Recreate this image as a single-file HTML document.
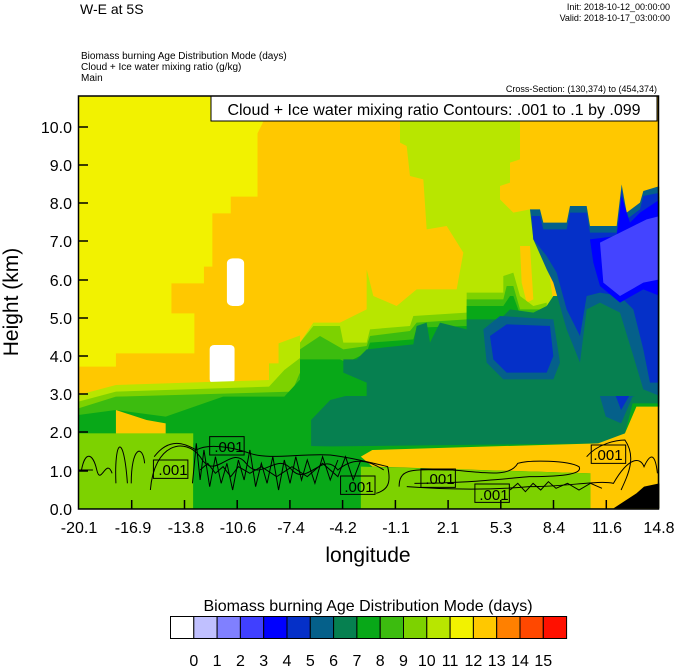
<!DOCTYPE html>
<html><head><meta charset="utf-8"><style>
html,body{margin:0;padding:0;background:#fff;}
svg{display:block;font-family:"Liberation Sans",sans-serif;}
</style></head><body>
<svg width="674" height="667" viewBox="0 0 674 667" xmlns="http://www.w3.org/2000/svg">
<defs><clipPath id="cr"><rect x="300" y="96" width="359" height="300"/></clipPath></defs>
<text x="80" y="14" font-size="14">W-E at 5S</text>
<text x="670" y="10" font-size="9" text-anchor="end">Init: 2018-10-12_00:00:00</text>
<text x="670" y="21" font-size="9" text-anchor="end">Valid: 2018-10-17_03:00:00</text>
<text x="81" y="59" font-size="10">Biomass burning Age Distribution Mode   (days)</text>
<text x="81" y="70" font-size="10">Cloud + Ice water mixing ratio   (g/kg)</text>
<text x="81" y="81" font-size="10">Main</text>
<text x="657" y="92" font-size="9" text-anchor="end">Cross-Section: (130,374) to (454,374)</text>
<g transform="translate(70,90) scale(0.38270,0.33333)">
<rect x="22" y="18" width="1516" height="1237" fill="#ffc800"/>
<polygon fill="#f2f200" points="22,18 505,18 505,95 490,130 490,320 420,320 420,370 372,370 372,530 350,530 350,580 265,580 265,670 325,670 325,790 120,790 120,830 22,830"/>
<rect x="410" y="505" width="45" height="143" rx="15" fill="#fff"/>
<rect x="365" y="765" width="65" height="115" rx="12" fill="#fff"/>
<polygon fill="#b8e600" points="22,915 120,885 250,880 520,870 520,820 545,820 545,760 640,720 730,720 800,700 770,540 850,530 850,600 1000,590 1030,560 1020,480 940,440 890,280 880,160 860,95 1190,95 1190,210 1130,210 1130,300 1200,370 1300,350 1350,400 1440,290 1540,290 1540,1255 22,1255"/>
<polygon fill="#7dd200" points="22,935 120,905 520,890 560,840 640,770 760,760 790,660 900,640 1040,610 1120,590 1200,580 1200,380 1300,365 1350,410 1440,300 1540,310 1540,1255 22,1255"/>
<polygon fill="#3cbc0f" points="22,955 120,920 580,905 600,850 680,810 760,800 780,700 900,680 1040,640 1140,600 1210,390 1300,372 1350,418 1440,305 1540,320 1540,1255 22,1255"/>
<polygon fill="#08a818" points="22,975 120,960 250,980 400,920 560,920 600,870 700,860 780,760 900,720 1040,665 1140,610 1215,400 1300,380 1350,425 1440,310 1540,330 1540,1255 22,1255"/>
<polygon fill="#068050" points="630,1070 630,990 680,930 780,900 780,760 900,730 1040,680 1140,620 1220,410 1300,390 1350,430 1440,320 1540,340 1540,940 1470,940 1450,1030 1400,1060"/>
<polygon fill="#05608a" points="1380,900 1540,880 1540,900 1470,920 1440,1000 1400,980"/>
<polygon fill="#0530c8" points="1420,900 1540,890 1470,900 1440,960"/>
<polygon fill="#ffc800" points="120,960 200,990 250,1000 250,1050 150,1050 120,1030"/>
<polygon fill="#ffc800" points="760,1100 790,1080 1080,1070 1380,1060 1450,1030 1480,950 1540,950 1540,1255 1360,1255 1360,1150 790,1130"/>
<rect x="22" y="1030" width="300" height="225" fill="#7dd200"/>
<polygon fill="#08a818" points="322,1060 700,1070 760,1100 760,1255 322,1255"/>
<polygon fill="#7dd200" points="760,1130 1360,1150 1360,1255 760,1255"/>
<polygon fill="#000" points="1420,1255 1480,1210 1500,1190 1540,1180 1540,1255"/>
</g>
<g clip-path="url(#cr)"><g transform="translate(300,96) scale(0.33333)">
<rect x="0" y="0" width="1080" height="900" fill="#ffc800"/>
<polygon fill="#b8e600" points="300,0 660,0 660,190 630,200 630,260 600,270 600,310 640,350 690,340 720,340 760,620 740,900 0,900 0,740 40,680 120,680 200,640 200,520 220,600 290,630 350,580 470,580 490,470 440,390 380,400 370,250 330,240 320,150 300,140"/>
<polygon fill="#ffc800" points="660,450 690,450 700,610 680,620 665,560"/>
<polygon fill="#7dd200" points="0,740 40,690 120,690 130,740 200,740 210,700 330,690 340,660 500,650 500,590 610,590 610,540 640,530 660,600 700,630 740,620 760,900 0,900"/>
<polygon fill="#3cbc0f" points="0,760 60,720 130,760 200,750 210,720 330,705 350,680 500,670 500,610 610,610 620,570 640,570 660,640 740,640 760,900 0,900"/>
<polygon fill="#08a818" points="0,790 120,790 140,800 200,770 210,740 340,730 350,695 500,690 500,630 610,630 630,600 640,600 660,655 740,650 760,900 0,900"/>
<polygon fill="#068050" points="130,830 130,790 170,790 200,760 340,745 350,690 380,680 390,740 420,680 500,700 500,670 600,670 630,640 700,650 740,630 760,600 1080,600 1080,900 200,900 200,860"/>
<polygon fill="#05608a" points="550,700 600,660 760,670 780,800 760,850 610,850 560,800"/>
<polygon fill="#0530c8" points="570,720 620,685 750,690 760,780 740,830 620,830 580,790"/>
<polygon fill="#05608a" points="690,340 720,340 730,380 800,380 810,330 860,330 870,390 950,390 965,265 980,350 1020,320 1030,285 1080,270 1080,900 1030,880 1000,780 960,650 900,620 860,640 840,800 800,700 760,560 740,520 700,430"/>
<polygon fill="#0530c8" points="695,360 720,360 730,400 800,400 810,350 860,350 870,410 950,410 965,280 980,370 1020,340 1030,300 1080,290 1080,860 1050,860 1030,760 1000,640 960,600 900,590 860,600 840,720 800,640 770,530 740,480 700,430"/>
<polygon fill="#0000ff" points="870,430 950,420 965,300 990,380 1020,350 1080,310 1080,600 1030,580 960,620 900,570 880,500"/>
<polygon fill="#4444ff" points="900,440 960,410 1000,390 1040,370 1080,360 1080,550 1030,560 960,600 910,560"/>
</g></g>
<g fill="none" stroke="#000" transform="translate(70,90) scale(0.38270,0.33333)">
<path vector-effect="non-scaling-stroke" d="M30,1140 C40,1080 60,1090 70,1140 C80,1190 95,1100 110,1150 M120,1180 C115,1050 140,1020 150,1180 M160,1180 C160,1070 190,1060 195,1120 M210,1200 C220,1060 300,1040 340,1100 C380,1180 420,1060 460,1120 C500,1180 540,1080 580,1140 C620,1190 660,1080 700,1140 C740,1100 780,1110 820,1140"/>
<path vector-effect="non-scaling-stroke" d="M220,1100 C260,1040 300,1060 330,1080 C360,1060 420,1070 470,1090 C520,1110 600,1090 680,1095 C720,1100 760,1110 830,1130 C840,1180 830,1200 800,1210 M860,1190 C860,1130 900,1140 1000,1140 C1100,1150 1150,1160 1170,1120 C1200,1110 1300,1110 1330,1130 C1340,1150 1300,1160 1200,1160 C1100,1170 1020,1180 900,1180"/>
<path vector-effect="non-scaling-stroke" d="M880,1190 C1000,1200 1100,1200 1200,1190 C1300,1190 1380,1170 1420,1180 C1460,1100 1490,1100 1500,1130 C1520,1080 1530,1100 1535,1150 M1350,1100 C1380,1060 1430,1050 1450,1050 C1480,1100 1460,1150 1440,1200"/>
<path vector-effect="non-scaling-stroke" d="M320,1180 L330,1060 L340,1170 L350,1080 L365,1190 L380,1100 L395,1180 L410,1120 L425,1200 L440,1110 L455,1170 L470,1080 L485,1190 L500,1120 L515,1180 L530,1100 L545,1200 L560,1110 L575,1180 L590,1100 L605,1170 L620,1110 L640,1180 L660,1100 L680,1170 L700,1110"/>
<path vector-effect="non-scaling-stroke" d="M340,1140 L360,1120 L380,1150 L400,1130 L420,1160 L440,1130 L470,1150 L500,1130 L540,1160 L580,1130 L620,1160 L660,1120 L700,1160 L720,1100 L740,1170 L760,1110"/>
<path vector-effect="non-scaling-stroke" d="M1150,1200 L1170,1180 L1190,1205 L1210,1180 L1230,1200 L1250,1175 L1270,1195 L1300,1180 L1330,1200 L1360,1180 L1390,1195"/>
<path vector-effect="non-scaling-stroke" d="M22,1140 L60,1140"/>
<rect vector-effect="non-scaling-stroke" x="218" y="1110" width="90" height="55"/>
<rect vector-effect="non-scaling-stroke" x="365" y="1040" width="90" height="55"/>
<rect vector-effect="non-scaling-stroke" x="707" y="1158" width="90" height="55"/>
<rect vector-effect="non-scaling-stroke" x="917" y="1137" width="90" height="55"/>
<rect vector-effect="non-scaling-stroke" x="1058" y="1182" width="90" height="55"/>
<rect vector-effect="non-scaling-stroke" x="1362" y="1065" width="90" height="55"/>
</g>
<g font-size="15" text-anchor="middle">
<text x="173" y="475">.001</text>
<text x="229" y="452">.001</text>
<text x="359" y="492">.001</text>
<text x="440" y="484">.001</text>
<text x="494" y="500">.001</text>
<text x="608" y="460">.001</text>
</g>
<rect x="211" y="96" width="446" height="25" fill="#fff" stroke="#000"/>
<text x="434" y="115" font-size="16" text-anchor="middle">Cloud + Ice water mixing ratio Contours: .001 to .1 by .099</text>
<rect x="78.5" y="96" width="580" height="413" fill="none" stroke="#000" stroke-width="1.5"/>
<g stroke="#000" stroke-width="1.5">
<line x1="79" y1="127" x2="88" y2="127"/><line x1="79" y1="165" x2="88" y2="165"/><line x1="79" y1="203" x2="88" y2="203"/><line x1="79" y1="241" x2="88" y2="241"/><line x1="79" y1="280" x2="88" y2="280"/><line x1="79" y1="318" x2="88" y2="318"/><line x1="79" y1="356" x2="88" y2="356"/><line x1="79" y1="394" x2="88" y2="394"/><line x1="79" y1="432" x2="88" y2="432"/><line x1="79" y1="471" x2="88" y2="471"/>
<line x1="131.7" y1="509" x2="131.7" y2="500"/><line x1="184.5" y1="509" x2="184.5" y2="500"/><line x1="237.2" y1="509" x2="237.2" y2="500"/><line x1="289.9" y1="509" x2="289.9" y2="500"/><line x1="342.6" y1="509" x2="342.6" y2="500"/><line x1="395.4" y1="509" x2="395.4" y2="500"/><line x1="448.1" y1="509" x2="448.1" y2="500"/><line x1="500.8" y1="509" x2="500.8" y2="500"/><line x1="553.5" y1="509" x2="553.5" y2="500"/><line x1="606.3" y1="509" x2="606.3" y2="500"/>
</g>
<g font-size="16" text-anchor="end">
<text x="72" y="133">10.0</text><text x="72" y="171">9.0</text><text x="72" y="209">8.0</text><text x="72" y="247">7.0</text><text x="72" y="286">6.0</text><text x="72" y="324">5.0</text><text x="72" y="362">4.0</text><text x="72" y="400">3.0</text><text x="72" y="438">2.0</text><text x="72" y="477">1.0</text><text x="72" y="515">0.0</text>
</g>
<g font-size="16" text-anchor="middle">
<text x="79" y="533">-20.1</text><text x="133" y="533">-16.9</text><text x="186" y="533">-13.8</text><text x="238" y="533">-10.6</text><text x="291" y="533">-7.4</text><text x="343" y="533">-4.2</text><text x="396" y="533">-1.1</text><text x="448" y="533">2.1</text><text x="501" y="533">5.3</text><text x="554" y="533">8.4</text><text x="607" y="533">11.6</text><text x="659" y="533">14.8</text>
</g>
<text x="368" y="562" font-size="21" text-anchor="middle">longitude</text>
<text transform="translate(18,302) rotate(-90)" font-size="21" text-anchor="middle">Height (km)</text>
<text x="368" y="611" font-size="16" text-anchor="middle">Biomass burning Age Distribution Mode  (days)</text>
<g stroke="#000" stroke-width="1">
<rect x="170.5" y="616.5" width="23.3" height="22" fill="#fff"/>
<rect x="193.8" y="616.5" width="23.3" height="22" fill="#c0c0ff"/>
<rect x="217.1" y="616.5" width="23.3" height="22" fill="#8080ff"/>
<rect x="240.4" y="616.5" width="23.3" height="22" fill="#4040ff"/>
<rect x="263.7" y="616.5" width="23.3" height="22" fill="#0000ff"/>
<rect x="287" y="616.5" width="23.3" height="22" fill="#0530c8"/>
<rect x="310.3" y="616.5" width="23.3" height="22" fill="#05608a"/>
<rect x="333.6" y="616.5" width="23.3" height="22" fill="#068050"/>
<rect x="356.9" y="616.5" width="23.3" height="22" fill="#08a818"/>
<rect x="380.2" y="616.5" width="23.3" height="22" fill="#3cbc0f"/>
<rect x="403.5" y="616.5" width="23.3" height="22" fill="#7dd200"/>
<rect x="426.8" y="616.5" width="23.3" height="22" fill="#b8e600"/>
<rect x="450.1" y="616.5" width="23.3" height="22" fill="#f2f200"/>
<rect x="473.4" y="616.5" width="23.3" height="22" fill="#ffc800"/>
<rect x="496.7" y="616.5" width="23.3" height="22" fill="#ff8000"/>
<rect x="520" y="616.5" width="23.3" height="22" fill="#ff4800"/>
<rect x="543.3" y="616.5" width="23.3" height="22" fill="#ff1000"/>
</g>
<g font-size="16" text-anchor="middle">
<text x="193.8" y="666">0</text><text x="217.1" y="666">1</text><text x="240.4" y="666">2</text><text x="263.7" y="666">3</text><text x="287" y="666">4</text><text x="310.3" y="666">5</text><text x="333.6" y="666">6</text><text x="356.9" y="666">7</text><text x="380.2" y="666">8</text><text x="403.5" y="666">9</text><text x="426.8" y="666">10</text><text x="450.1" y="666">11</text><text x="473.4" y="666">12</text><text x="496.7" y="666">13</text><text x="520" y="666">14</text><text x="543.3" y="666">15</text>
</g>
</svg>
</body></html>
